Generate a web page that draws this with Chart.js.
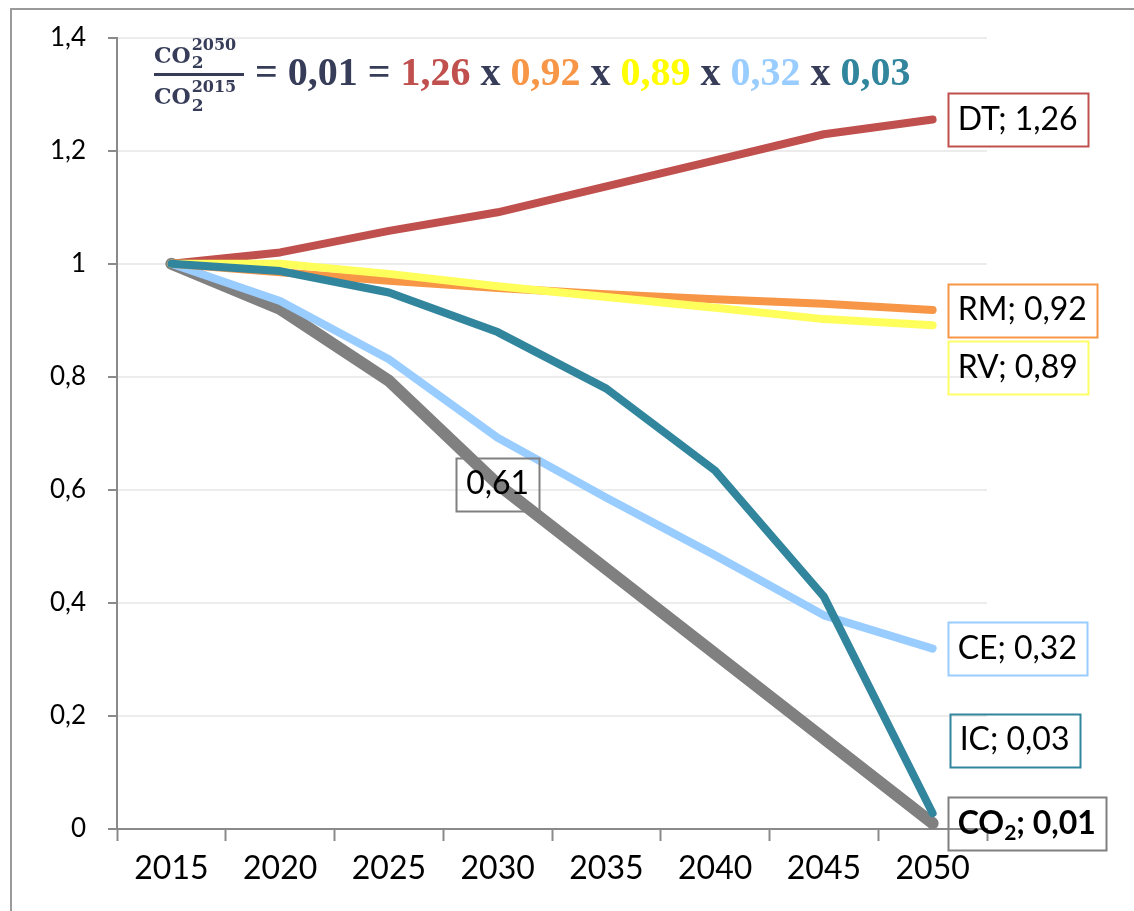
<!DOCTYPE html>
<html><head><meta charset="utf-8">
<script src="https://cdn.jsdelivr.net/npm/chart.js@4/dist/chart.umd.min.js"></script>
<style>html,body{margin:0;padding:0;background:#fff;}#wrap{width:1134px;height:911px;position:relative;}</style>
</head><body><div id="wrap"><canvas id="c" width="1134" height="911"></canvas></div>
<script>
// ---- data ----
const years = ['2015','2020','2025','2030','2035','2040','2045','2050'];
const seriesNames = ['DT','RM','RV','CE','IC','CO2'];
const dtValues  = [1, 1.020, 1.058, 1.091, 1.137, 1.183, 1.229, 1.255];
const rmValues  = [1, 0.985, 0.970, 0.957, 0.946, 0.937, 0.929, 0.918];
const rvValues  = [1, 1.000, 0.982, 0.960, 0.941, 0.922, 0.902, 0.891];
const ceValues  = [1, 0.934, 0.831, 0.692, 0.586, 0.484, 0.378, 0.319];
const icValues  = [1, 0.987, 0.949, 0.879, 0.779, 0.634, 0.411, 0.028];
const co2Values = [1, 0.920, 0.793, 0.610, 0.460, 0.310, 0.160, 0.010];
const finalFactors = ['1,26','0,92','0,89','0,32','0,03','0,01'];
const co2At2030 = '0,61';
const yTickMin = 0, yTickMax = 1.4, yTickStep = 0.2;

// ---- styles ----
const colors = {DT:'#c0504d', RM:'#f79646', RV:'#ffff5c', CE:'#99ccff', IC:'#31859c', CO2:'#808080'};
const titleColors = ['#c0504d','#f79646','#ffff00','#99ccff','#31859c'];
const navy = '#373d59';
const widths = {DT:8, RM:8, RV:8, CE:8, IC:8, CO2:12};
const drawOrder = {IC:1, RV:2, RM:3, DT:4, CE:5, CO2:6};
const allValues = [dtValues, rmValues, rvValues, ceValues, icValues, co2Values];

const datasets = seriesNames.map((n,i)=>({
  label:n, data:allValues[i], borderColor:colors[n], backgroundColor:colors[n],
  borderWidth:widths[n], pointRadius:0, tension:0, fill:false,
  borderCapStyle:'round', borderJoinStyle:'round', order:drawOrder[n]
}));

// label placement relative to the last point (pixels)
const endLabels = [
  {s:0, dx:15, dy:0, border:'#c0504d'},
  {s:1, dx:15, dy:0, border:'#f79646'},
  {s:2, dx:15, dy:42, border:'#ffff66'},
  {s:3, dx:15, dy:0, border:'#99ccff'},
  {s:4, dx:17, dy:-73, border:'#31859c'},
  {s:5, dx:15, dy:0, border:'#808080', bold:true}
];

const LFONT = 'Lato, "Open Sans", sans-serif';
const SERIF = '"Liberation Serif", "DejaVu Serif", serif';
const WSERIF = '"DejaVu Serif", "Liberation Serif", serif';

function drawBox(ctx, x, yc, w, h, color){
  ctx.save();
  ctx.strokeStyle = color; ctx.lineWidth = 2;
  ctx.strokeRect(Math.round(x)+0.5, Math.round(yc - h/2)+0.5, Math.round(w), Math.round(h));
  ctx.restore();
}

const labelPlugin = {
  id:'labels',
  beforeDraw(chart){
    const ctx = chart.ctx;
    ctx.save();
    ctx.strokeStyle = '#9a9a9a'; ctx.lineWidth = 2;
    ctx.beginPath(); ctx.moveTo(11, 911); ctx.lineTo(11, 9); ctx.lineTo(1134, 9); ctx.stroke();
    ctx.restore();
  },
  afterDatasetsDraw(chart){
    const ctx = chart.ctx;
    const H = 53;
    ctx.save();
    ctx.textBaseline = 'middle';
    endLabels.forEach(l=>{
      const meta = chart.getDatasetMeta(l.s);
      const pt = meta.data[meta.data.length-1];
      const x = pt.x + l.dx, yc = pt.y + l.dy;
      const name = seriesNames[l.s], val = finalFactors[l.s];
      ctx.fillStyle = '#000';
      if (l.bold){
        const big = 'bold 32px ' + LFONT, small = 'bold 21px ' + LFONT;
        ctx.font = big; const wCO = ctx.measureText('CO').width;
        ctx.font = small; const w2 = ctx.measureText('2').width;
        ctx.font = big; const wRest = ctx.measureText('; ' + val).width;
        const tw = wCO + w2 + wRest;
        drawBox(ctx, x, yc, tw + 20, H, l.border);
        let tx = x + 10;
        ctx.font = big; ctx.fillText('CO', tx, yc); tx += wCO;
        ctx.font = small; ctx.fillText('2', tx, yc + 10); tx += w2;
        ctx.font = big; ctx.fillText('; ' + val, tx, yc);
      } else {
        ctx.font = '32px ' + LFONT;
        const txt = name + '; ' + val;
        const tw = ctx.measureText(txt).width;
        drawBox(ctx, x, yc, tw + 20, H, l.border);
        ctx.fillText(txt, x + 10, yc);
      }
    });
    // 0,61 label on CO2 at 2030
    const m = chart.getDatasetMeta(5).data[3];
    ctx.font = '32px ' + LFONT;
    const tw = ctx.measureText(co2At2030).width;
    drawBox(ctx, m.x - (tw+20)/2, m.y, tw + 20, H, '#808080');
    ctx.fillStyle = '#000';
    ctx.fillText(co2At2030, m.x - tw/2, m.y);
    ctx.restore();
  },
  afterDraw(chart){
    const ctx = chart.ctx;
    ctx.save();
    ctx.textBaseline = 'alphabetic';
    ctx.fillStyle = navy;
    // fraction
    const fx = 154;
    const coF = 'bold 22px ' + WSERIF, supF = 'bold 16px ' + WSERIF, subF = 'bold 17px ' + WSERIF;
    function co2Part(base, supTxt, supBase, subBase){
      ctx.font = coF; ctx.fillText('CO', fx, base);
      const w = ctx.measureText('CO').width;
      ctx.font = subF; ctx.fillText('2', fx + w + 1, subBase);
      ctx.font = supF; ctx.fillText(supTxt, fx + w + 1, supBase);
    }
    co2Part(63, '2050', 50, 68);
    co2Part(104, '2015', 92, 111);
    ctx.fillRect(154, 73, 90, 3);
    // equation
    ctx.font = 'bold 40px ' + SERIF;
    let x = 255;
    const parts = [['= ' + finalFactors[5] + ' = ', navy]];
    for (let i=0;i<5;i++){
      parts.push([finalFactors[i], titleColors[i]]);
      if (i<4) parts.push([' x ', navy]);
    }
    parts.forEach(p=>{
      ctx.fillStyle = p[1];
      ctx.fillText(p[0], x, 85);
      x += ctx.measureText(p[0]).width;
    });
    ctx.restore();
  }
};

new Chart(document.getElementById('c'), {
  type:'line',
  data:{labels:years, datasets:datasets},
  options:{
    responsive:false, animation:false, devicePixelRatio:1,
    layout:{padding:{left:0, top:36, right:147, bottom:0}},
    plugins:{legend:{display:false}, tooltip:{enabled:false}},
    scales:{
      x:{
        type:'category', offset:true,
        grid:{display:true, drawOnChartArea:false, drawTicks:true, offset:true, tickLength:12, tickColor:'#8a8a8a', tickWidth:2},
        border:{display:true, color:'#8a8a8a', width:2},
        ticks:{color:'#000', font:{family:'Lato', size:32}, padding:8, maxRotation:0, autoSkip:false},
        afterFit(s){ s.height = 82; }
      },
      y:{
        min:yTickMin, max:yTickMax,
        grid:{color:'#ececec', lineWidth:2, tickLength:9, tickColor:'#8a8a8a', tickWidth:2},
        border:{display:true, color:'#8a8a8a', width:2},
        ticks:{stepSize:yTickStep, color:'#000', font:{family:'Lato', size:26}, padding:22,
          callback:(v)=>{ const r = Math.round(v*10)/10; return String(r).replace('.', ','); }},
        afterFit(s){ s.width = 117; }
      }
    }
  },
  plugins:[labelPlugin]
});
</script>
</body></html>
